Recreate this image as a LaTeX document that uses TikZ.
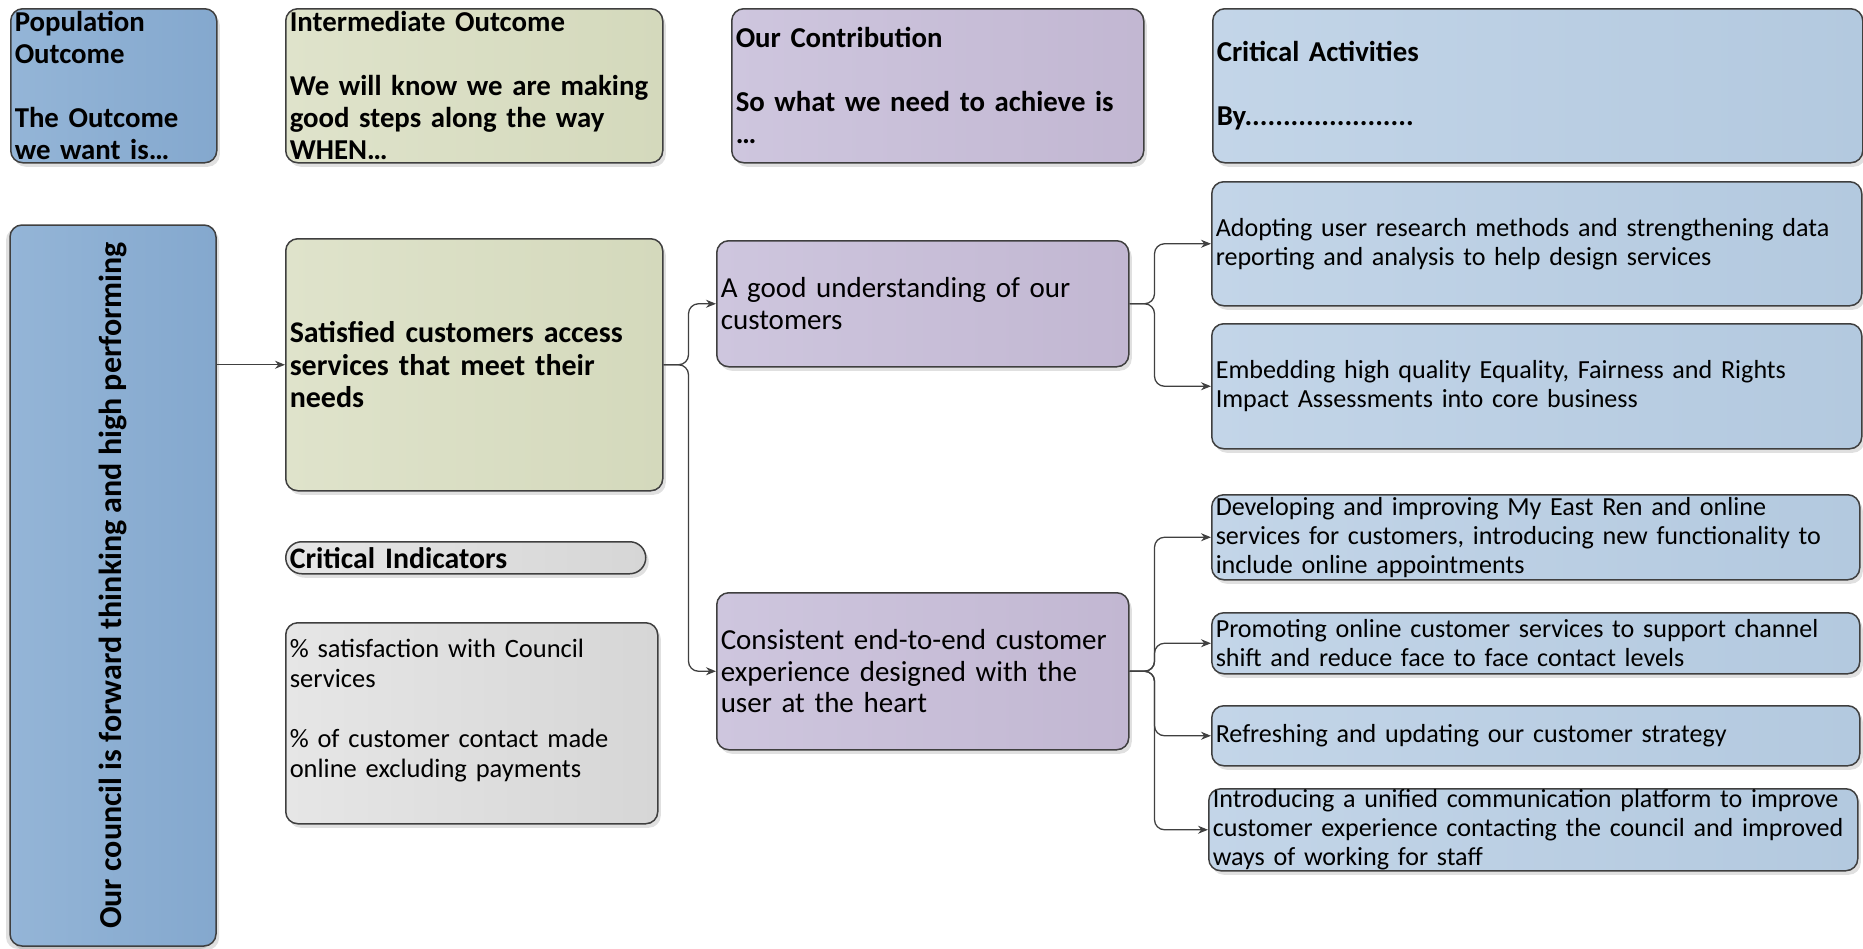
\documentclass[tikz,border=0pt]{standalone}
\usepackage{fontspec}
\setmainfont{Carlito}
\usetikzlibrary{arrows.meta,shadows,calc}
\hyphenpenalty=10000
\exhyphenpenalty=10000
\definecolor{bordc}{HTML}{3F3F3F}
\definecolor{connc}{HTML}{404040}
\definecolor{blueL}{HTML}{94B5D7}\definecolor{blueR}{HTML}{84A8CE}
\definecolor{greenL}{HTML}{DFE3CB}\definecolor{greenR}{HTML}{D4D9BC}
\definecolor{purpL}{HTML}{CEC6DE}\definecolor{purpR}{HTML}{C2B7D2}
\definecolor{ltL}{HTML}{C3D5E8}\definecolor{ltR}{HTML}{B3C9DF}
\definecolor{greyL}{HTML}{E6E6E6}\definecolor{greyR}{HTML}{D6D6D6}
\tikzset{
  box/.style={draw=bordc, line width=1.5pt, rounded corners=12pt, inner xsep=4pt, inner ysep=0pt,
    align=left, anchor=north west,
    drop shadow={shadow xshift=3pt, shadow yshift=-4pt, opacity=0.12, fill=black}},
  bluebox/.style={left color=blueL, right color=blueR},
  greenbox/.style={left color=greenL, right color=greenR},
  purpbox/.style={left color=purpL, right color=purpR},
  ltbox/.style={left color=ltL, right color=ltR},
  greybox/.style={left color=greyL, right color=greyR},
  fhdr/.style={font=\fontsize{28.8pt}{32pt}\selectfont\bfseries},
  fsat/.style={font=\fontsize{30pt}{32.5pt}\selectfont\bfseries},
  find/.style={font=\fontsize{26.5pt}{30pt}\selectfont},
  fpurp/.style={font=\fontsize{29pt}{31.5pt}\selectfont},
  fact/.style={font=\fontsize{26.1pt}{29pt}\selectfont},
  conn/.style={draw=connc, line width=1.3pt, rounded corners=10pt, -{Stealth[length=10pt,width=8pt]}},
}
\begin{document}
\begin{tikzpicture}[x=1pt,y=-1pt]
\useasboundingbox (0,0) rectangle (1863,948);
% headers
\node[box,bluebox,fhdr,minimum width=206pt,minimum height=154pt,text width=198pt] (pop) at (10,8)
  {Population\\Outcome\\\mbox{}\\The Outcome\\we want is…};
\node[box,greenbox,fhdr,minimum width=377pt,minimum height=154pt,text width=369pt] (inter) at (285,8)
  {Intermediate Outcome\\\mbox{}\\We will know we are making\\good steps along the way\\WHEN…};
\node[box,purpbox,fhdr,minimum width=412pt,minimum height=154pt,text width=404pt] (contrib) at (731,8)
  {Our Contribution\\\mbox{}\\So what we need to achieve is\\…};
\node[box,ltbox,fhdr,minimum width=650pt,minimum height=154pt,text width=642pt] (critact) at (1212,8)
  {Critical Activities\\\mbox{}\\By......................};
% left tall
\node[box,bluebox,anchor=center,rotate=90,align=center,minimum width=721pt,minimum height=206pt,
  font=\fontsize{32pt}{36pt}\selectfont\bfseries,
  drop shadow={shadow xshift=-4pt, shadow yshift=-3pt, opacity=0.12, fill=black}] (left) at (113,585.5)
  {Our council is forward thinking and high performing};
% intermediate
\node[box,greenbox,fsat,minimum width=377pt,minimum height=252pt,text width=369pt] (sat) at (285,238)
  {Satisfied customers access\\services that meet their\\needs};
\node[box,greybox,rounded corners=16pt,minimum width=360pt,minimum height=32pt,text width=352pt,
  font=\fontsize{29.8pt}{32pt}\selectfont\bfseries] (critind) at (285,541)
  {Critical Indicators};
\node[box,greybox,find,minimum width=372pt,minimum height=201pt,text width=364pt] (ind) at (285,622)
  {\% satisfaction with Council\\services\\\mbox{}\\\% of customer contact made\\online excluding payments\\\mbox{}};
% contribution
\node[box,purpbox,fpurp,minimum width=412pt,minimum height=126pt,text width=404pt] (good) at (716,240)
  {A good understanding of our\\customers};
\node[box,purpbox,fpurp,minimum width=412pt,minimum height=157pt,text width=404pt] (cons) at (716,592)
  {Consistent end-to-end customer\\experience designed with the\\user at the heart};
% activities
\node[box,ltbox,fact,minimum width=650pt,minimum height=124pt,text width=642pt] (adopt) at (1211,181)
  {Adopting user research methods and strengthening data\\reporting and analysis to help design services};
\node[box,ltbox,fact,minimum width=650pt,minimum height=125pt,text width=642pt] (embed) at (1211,323)
  {Embedding high quality Equality, Fairness and Rights\\Impact Assessments into core business};
\node[box,ltbox,fact,minimum width=648pt,minimum height=85pt,text width=640pt] (dev) at (1211,494)
  {Developing and improving My East Ren and online\\services for customers, introducing new functionality to\\include online appointments};
\node[box,ltbox,fact,minimum width=648pt,minimum height=61pt,text width=640pt] (promo) at (1211,612)
  {Promoting online customer services to support channel\\shift and reduce face to face contact levels};
\node[box,ltbox,fact,minimum width=648pt,minimum height=60pt,text width=640pt] (refresh) at (1211,705)
  {Refreshing and updating our customer strategy};
\node[box,ltbox,fact,minimum width=649pt,minimum height=82pt,text width=641pt] (intro) at (1208,788)
  {Introducing a unified communication platform to improve\\customer experience contacting the council and improved\\ways of working for staff};
% connectors
\draw[conn] (sat.west -| left.south) -- (sat.west);
\draw[conn] (sat.east) -- ++(25,0) |- (good.west);
\draw[conn] (sat.east) -- ++(25,0) |- (cons.west);
\draw[conn] (good.east) -- ++(25,0) |- (adopt.west);
\draw[conn] (good.east) -- ++(25,0) |- (embed.west);
\draw[conn] (cons.east) -- ++(25,0) |- (dev.west);
\draw[conn] (cons.east) -- ++(25,0) |- (promo.west);
\draw[conn] (cons.east) -- ++(25,0) |- (refresh.west);
\draw[conn] (cons.east) -- ++(25,0) |- (intro.west);
\end{tikzpicture}
\end{document}
